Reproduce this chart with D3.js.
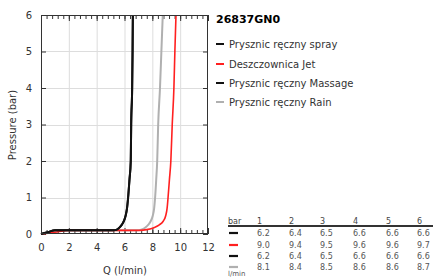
<!DOCTYPE html>
<html><head><meta charset="utf-8">
<script src="https://cdn.jsdelivr.net/npm/d3@7"></script>
<style>body{margin:0;background:#fff}svg{display:block;font-family:"DejaVu Sans",sans-serif}</style>
</head><body><svg id="c" width="433" height="277"></svg>
<script>
const title = "26837GN0";
const seriesNames = ["Prysznic ręczny spray","Deszczownica Jet","Prysznic ręczny Massage","Prysznic ręczny Rain"];
const seriesColors = ["#111111","#ff2020","#111111","#b0b0b0"];
const pressure = [0, 0.05, 0.1, 0.1, 0.1, 0.12, 0.18, 0.25, 0.35, 0.5, 0.7, 1, 1.5, 2, 3, 4, 5, 6];
const qSpray   = [0, 0.5, 1.0, 3, 5.2, 5.45, 5.65, 5.8, 5.95, 6.08, 6.18, 6.26, 6.36, 6.45, 6.48, 6.55, 6.58, 6.6];
const qJet     = [0, 1.0, 2.0, 4, 7.1, 7.6, 8.15, 8.5, 8.78, 8.96, 9.06, 9.13, 9.23, 9.33, 9.43, 9.55, 9.62, 9.7];
const qMassage = [0, 0.5, 1.0, 3, 5.2, 5.45, 5.65, 5.8, 5.95, 6.08, 6.18, 6.26, 6.36, 6.45, 6.48, 6.55, 6.58, 6.6];
const qRain    = [0, 0.5, 1.2, 3, 6.9, 7.2, 7.5, 7.7, 7.88, 8.03, 8.13, 8.2, 8.28, 8.35, 8.42, 8.55, 8.65, 8.75];
const xTicks = [0,2,4,6,8,10,12];
const yTicks = [0,1,2,3,4,5,6];
const tableHeader = ["1","2","3","4","5","6"];
const tableSpray   = ["6.2","6.4","6.5","6.6","6.6","6.6"];
const tableJet     = ["9.0","9.4","9.5","9.6","9.6","9.7"];
const tableMassage = ["6.2","6.4","6.5","6.6","6.6","6.6"];
const tableRain    = ["8.1","8.4","8.5","8.6","8.6","8.7"];

const svg = d3.select("#c");
const L=41,R=208,T=15,B=234;
const x = d3.scaleLinear().domain([0,12]).range([L,R]);
const y = d3.scaleLinear().domain([0,6]).range([B,T]);

// grid
const g = svg.append("g");
g.selectAll(".vg").data(xTicks.slice(1,-1)).join("line")
 .attr("x1",d=>x(d)+0.5).attr("x2",d=>x(d)+0.5).attr("y1",T).attr("y2",B)
 .attr("stroke","#dddddd").attr("stroke-width",1);
g.selectAll(".hg").data(yTicks.slice(1,-1)).join("line")
 .attr("y1",d=>Math.round(y(d))+0.5).attr("y2",d=>Math.round(y(d))+0.5).attr("x1",L).attr("x2",R)
 .attr("stroke","#dddddd").attr("stroke-width",1);

// axes with inward ticks
const minor = d3.range(0,12.001,0.4);
const axB = d3.axisBottom(x).tickValues(minor).tickSize(-4).tickFormat("");
const axT = d3.axisTop(x).tickValues(minor).tickSize(-4).tickFormat("");
const axBM = d3.axisBottom(x).tickValues(xTicks).tickSize(-6).tickPadding(10).tickFormat(d3.format("d"));
const axTM = d3.axisTop(x).tickValues(xTicks).tickSize(-6).tickFormat("");
const axL = d3.axisLeft(y).tickValues(yTicks).tickSize(-5).tickPadding(9).tickFormat(d3.format("d"));
const axR = d3.axisRight(y).tickValues(yTicks).tickSize(-5).tickFormat("");
function style(sel){sel.select(".domain").remove();sel.selectAll("line").attr("stroke","#333");sel.selectAll("text").attr("fill","#333").style("font-size","10px").style("font-family","DejaVu Sans");}
svg.append("g").attr("transform",`translate(0,${B})`).call(axB).call(style);
svg.append("g").attr("transform",`translate(0,${T})`).call(axT).call(style);
svg.append("g").attr("transform",`translate(0,${B})`).call(axBM).call(style);
svg.append("g").attr("transform",`translate(0,${T})`).call(axTM).call(style);
svg.append("g").attr("transform",`translate(${L},0)`).call(axL).call(style);
svg.append("g").attr("transform",`translate(${R},0)`).call(axR).call(style);

// curves
const seriesQ = [qRain, qJet, qMassage, qSpray];
const seriesC = [seriesColors[3], seriesColors[1], seriesColors[2], seriesColors[0]];
const seriesW = [2, 1.6, 2, 2];
const line = d3.line().curve(d3.curveMonotoneX);
seriesQ.forEach((qs,i)=>{
  svg.append("path").attr("d", line(qs.map((q,j)=>[x(q),y(pressure[j])])))
   .attr("fill","none").attr("stroke",seriesC[i]).attr("stroke-width",seriesW[i]);
});

// frame
svg.append("rect").attr("x",L+0.5).attr("y",T+0.5).attr("width",R-L-1).attr("height",B-T-1)
 .attr("fill","none").attr("stroke","#333").attr("stroke-width",1);

// axis titles
svg.append("text").attr("x",125).attr("y",274).attr("text-anchor","middle").attr("fill","#333")
 .style("font-size","10px").text("Q (l/min)");
svg.append("text").attr("transform","translate(16,125) rotate(-90)").attr("text-anchor","middle").attr("fill","#333")
 .style("font-size","10px").text("Pressure (bar)");

// legend
svg.append("text").attr("x",216).attr("y",23).attr("fill","#000").style("font-size","11px").style("font-weight","bold").text(title);
const legY=[44,64,83,102];
seriesNames.forEach((n,i)=>{
  svg.append("line").attr("x1",216).attr("x2",224).attr("y1",legY[i]).attr("y2",legY[i])
   .attr("stroke",seriesColors[i]).attr("stroke-width",2);
  svg.append("text").attr("x",229).attr("y",legY[i]+3.5).attr("fill","#333").style("font-size","10px").text(n);
});

// table
const colX=[257,289,320,353,386,417];
const tf="8px";
svg.append("text").attr("x",228).attr("y",224).attr("fill","#444").style("font-size",tf).text("bar");
tableHeader.forEach((h,i)=>svg.append("text").attr("x",colX[i]).attr("y",224).attr("fill","#444").style("font-size",tf).text(h));
svg.append("line").attr("x1",228).attr("x2",433).attr("y1",226).attr("y2",226).attr("stroke","#333").attr("stroke-width",1.8);
const rows=[tableSpray,tableJet,tableMassage,tableRain];
const rowY=[233,245,256,267];
rows.forEach((r,k)=>{
  svg.append("line").attr("x1",229).attr("x2",238).attr("y1",rowY[k]).attr("y2",rowY[k]).attr("stroke",seriesColors[k]).attr("stroke-width",2.2);
  r.forEach((v,i)=>svg.append("text").attr("x",colX[i]).attr("y",rowY[k]+3).attr("fill","#555").style("font-size",tf).text(v));
});
svg.append("text").attr("x",228).attr("y",276).attr("fill","#555").style("font-size","7px").text("l/min");
</script></body></html>
